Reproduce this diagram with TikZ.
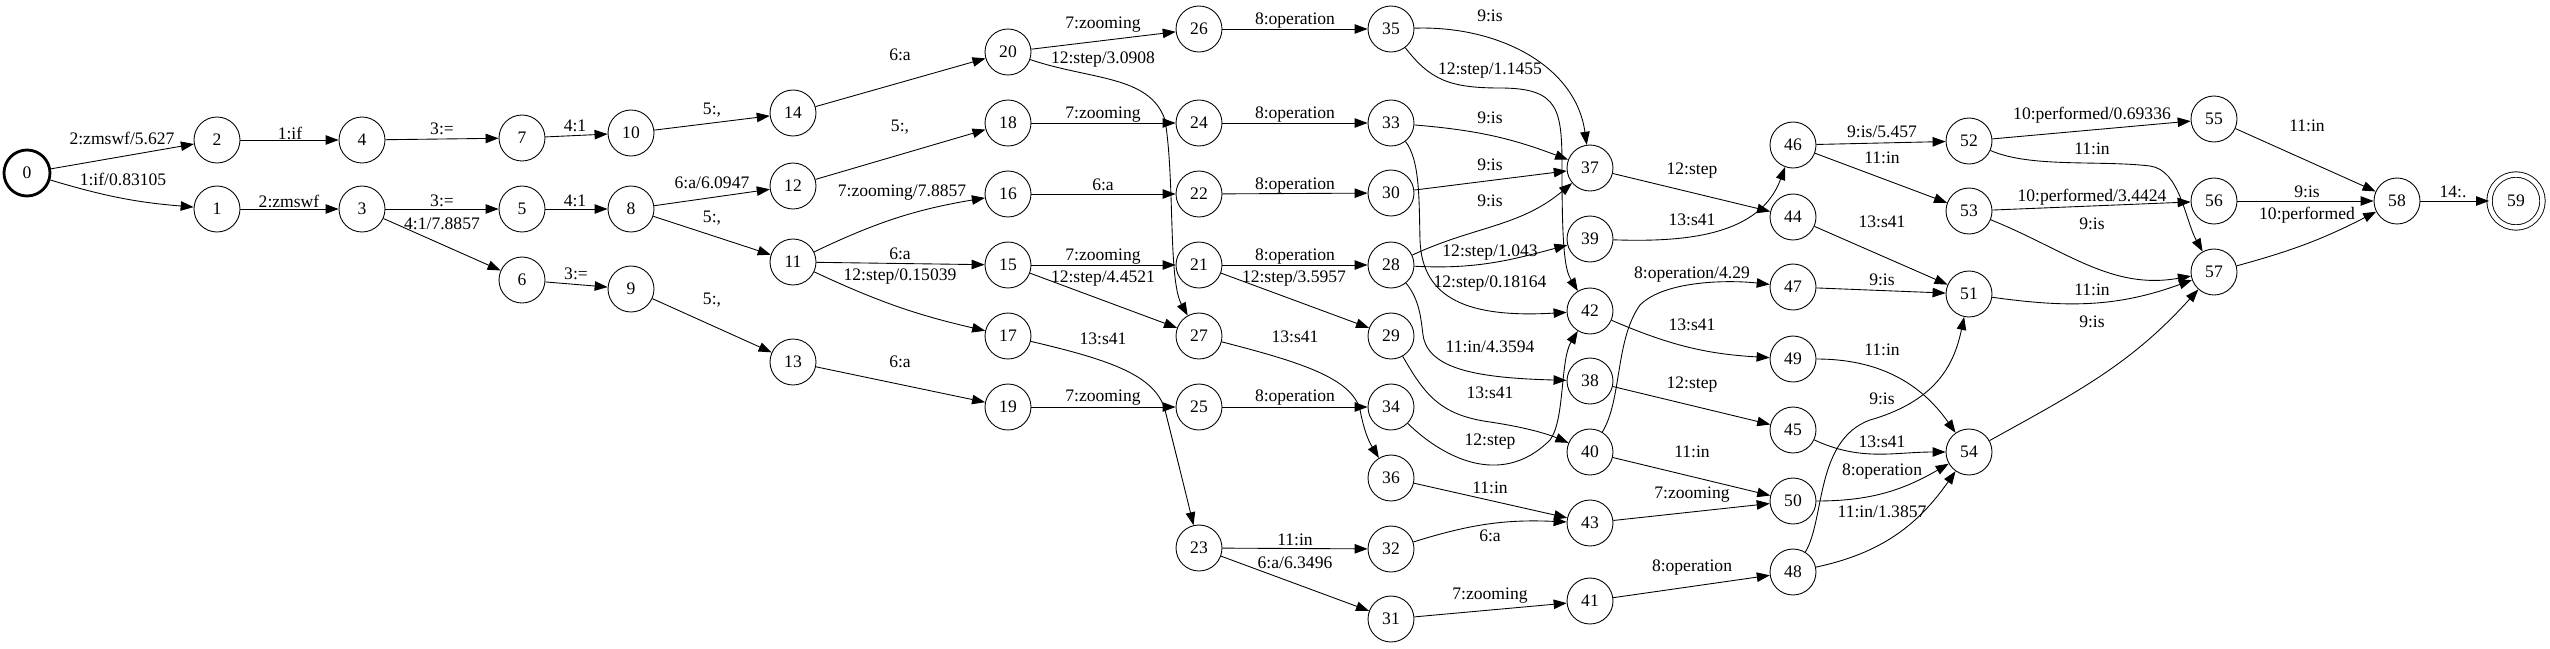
\documentclass[tikz,border=0pt]{standalone}
\usepackage{fontspec}
\setmainfont{Liberation Serif}
\usetikzlibrary{arrows.meta}

\begin{document}
\begin{tikzpicture}[x=0.02cm, y=-0.02cm, line width=0.5pt,
      >={Triangle[length=0.26cm, width=0.19cm]},
      state/.style={circle, draw, minimum size=0.92cm, inner sep=0pt},
      start/.style={state, line width=1.6pt},
      final/.style={state, minimum size=1.06cm, double, double distance=0.09cm},
      lbl/.style={inner sep=0pt}
    ]
      \useasboundingbox (0,0) rectangle (2550,649);

      % states
      \node[start] (s0) at (27,173) {0};
      \node[state] (s1) at (217,209) {1};
      \node[state] (s2) at (217,140) {2};
      \node[state] (s3) at (362,209) {3};
      \node[state] (s4) at (362,140) {4};
      \node[state] (s5) at (522,209) {5};
      \node[state] (s6) at (522,280) {6};
      \node[state] (s7) at (522,138) {7};
      \node[state] (s8) at (631,209) {8};
      \node[state] (s9) at (631,289) {9};
      \node[state] (s10) at (631,133) {10};
      \node[state] (s11) at (793,262) {11};
      \node[state] (s12) at (793,186) {12};
      \node[state] (s13) at (793,362) {13};
      \node[state] (s14) at (793,113) {14};
      \node[state] (s15) at (1008,265) {15};
      \node[state] (s16) at (1008,194) {16};
      \node[state] (s17) at (1008,336) {17};
      \node[state] (s18) at (1008,123) {18};
      \node[state] (s19) at (1008,407) {19};
      \node[state] (s20) at (1008,52) {20};
      \node[state] (s21) at (1199,265) {21};
      \node[state] (s22) at (1199,194) {22};
      \node[state] (s23) at (1199,548) {23};
      \node[state] (s24) at (1199,123) {24};
      \node[state] (s25) at (1199,407) {25};
      \node[state] (s26) at (1199,29) {26};
      \node[state] (s27) at (1199,336) {27};
      \node[state] (s28) at (1391,265) {28};
      \node[state] (s29) at (1391,336) {29};
      \node[state] (s30) at (1391,193) {30};
      \node[state] (s31) at (1391,619) {31};
      \node[state] (s32) at (1391,549) {32};
      \node[state] (s33) at (1391,123) {33};
      \node[state] (s34) at (1391,407) {34};
      \node[state] (s35) at (1391,29) {35};
      \node[state] (s36) at (1391,478) {36};
      \node[state] (s37) at (1590,168) {37};
      \node[state] (s38) at (1590,381) {38};
      \node[state] (s39) at (1590,239) {39};
      \node[state] (s40) at (1590,452) {40};
      \node[state] (s41) at (1590,601) {41};
      \node[state] (s42) at (1590,311) {42};
      \node[state] (s43) at (1590,523) {43};
      \node[state] (s44) at (1793,217) {44};
      \node[state] (s45) at (1793,430) {45};
      \node[state] (s46) at (1793,145) {46};
      \node[state] (s47) at (1793,287) {47};
      \node[state] (s48) at (1793,572) {48};
      \node[state] (s49) at (1793,359) {49};
      \node[state] (s50) at (1793,501) {50};
      \node[state] (s51) at (1969,294) {51};
      \node[state] (s52) at (1969,141) {52};
      \node[state] (s53) at (1969,211) {53};
      \node[state] (s54) at (1969,452) {54};
      \node[state] (s55) at (2214,119) {55};
      \node[state] (s56) at (2214,201) {56};
      \node[state] (s57) at (2214,272) {57};
      \node[state] (s58) at (2397,201) {58};
      \node[final] (s59) at (2516,201) {59};

      % arcs
      \draw[->] (s0) -- (s2) node[lbl] at (122,138) {2:zmswf/5.627};
      \draw[->] (s0) to[bend right=6] (s1) node[lbl] at (123,179) {1:if/0.83105};
      \draw[->] (s2) -- (s4) node[lbl] at (290,133) {1:if};
      \draw[->] (s1) -- (s3) node[lbl] at (289,201) {2:zmswf};
      \draw[->] (s4) -- (s7) node[lbl] at (442,129) {3:=};
      \draw[->] (s3) -- (s5) node[lbl] at (442,201) {3:=};
      \draw[->] (s3) -- (s6) node[lbl] at (442,224) {4:1/7.8857};
      \draw[->] (s7) -- (s10) node[lbl] at (575,126) {4:1};
      \draw[->] (s5) -- (s8) node[lbl] at (575,201) {4:1};
      \draw[->] (s6) -- (s9) node[lbl] at (576,274) {3:=};
      \draw[->] (s10) -- (s14) node[lbl] at (712,110) {5:,};
      \draw[->] (s8) -- (s12) node[lbl] at (712,183) {6:a/6.0947};
      \draw[->] (s8) -- (s11) node[lbl] at (712,218) {5:,};
      \draw[->] (s9) -- (s13) node[lbl] at (712,300) {5:,};
      \draw[->] (s14) -- (s20) node[lbl] at (900,55) {6:a};
      \draw[->] (s12) -- (s18) node[lbl] at (900,127) {5:,};
      \draw[->] (s11) to[bend left=8] (s16) node[lbl] at (902,193) {7:zooming/7.8857};
      \draw[->] (s11) -- (s15) node[lbl] at (900,254) {6:a};
      \draw[->] (s11) to[bend right=6] (s17) node[lbl] at (900,277) {12:step/0.15039};
      \draw[->] (s13) -- (s19) node[lbl] at (900,362) {6:a};
      \draw[->] (s20) -- (s26) node[lbl] at (1103,25) {7:zooming};
      \draw[->] (s20) .. controls (1090,80) and (1150,75) .. (1165,120)
                      .. controls (1175,180) and (1168,280) .. (s27) node[lbl] at (1103,60) {12:step/3.0908};
      \draw[->] (s18) -- (s24) node[lbl] at (1103,115) {7:zooming};
      \draw[->] (s16) -- (s22) node[lbl] at (1103,185) {6:a};
      \draw[->] (s15) -- (s21) node[lbl] at (1103,257) {7:zooming};
      \draw[->] (s15) -- (s27) node[lbl] at (1103,279) {12:step/4.4521};
      \draw[->] (s17) .. controls (1110,360) and (1155,375) .. (1165,410)
                      .. controls (1175,450) and (1185,490) .. (s23) node[lbl] at (1103,339) {13:s41};
      \draw[->] (s19) -- (s25) node[lbl] at (1103,398) {7:zooming};
      \draw[->] (s26) -- (s35) node[lbl] at (1295,21) {8:operation};
      \draw[->] (s24) -- (s33) node[lbl] at (1295,115) {8:operation};
      \draw[->] (s22) -- (s30) node[lbl] at (1295,186) {8:operation};
      \draw[->] (s21) -- (s28) node[lbl] at (1295,257) {8:operation};
      \draw[->] (s21) -- (s29) node[lbl] at (1294,279) {12:step/3.5957};
      \draw[->] (s27) .. controls (1300,362) and (1352,378) .. (1360,410)
                      .. controls (1364,430) and (1368,440) .. (s36) node[lbl] at (1295,337) {13:s41};
      \draw[->] (s25) -- (s34) node[lbl] at (1295,398) {8:operation};
      \draw[->] (s23) -- (s32) node[lbl] at (1295,540) {11:in};
      \draw[->] (s23) -- (s31) node[lbl] at (1295,563) {6:a/6.3496};
      \draw[->] (s35) to[out=2, in=98] (s37) node[lbl] at (1490,16) {9:is};
      \draw[->] (s35) .. controls (1430,80) and (1450,88) .. (1500,88)
                      .. controls (1560,88) and (1562,110) .. (1562,170)
                      .. controls (1562,250) and (1565,270) .. (s42) node[lbl] at (1490,71) {12:step/1.1455};
      \draw[->] (s33) to[bend left=8] (s37) node[lbl] at (1490,118) {9:is};
      \draw[->] (s30) -- (s37) node[lbl] at (1490,165) {9:is};
      \draw[->] (s28) to[out=25, in=220] (s37) node[lbl] at (1490,201) {9:is};
      \draw[->] (s28) to[out=-3, in=195] (s39) node[lbl] at (1490,253) {12:step/1.043};
      \draw[->] (s33) .. controls (1420,160) and (1419,200) .. (1420,240)
                      .. controls (1422,300) and (1470,318) .. (s42) node[lbl] at (1490,284) {12:step/0.18164};
      \draw[->] (s28) .. controls (1420,300) and (1421,320) .. (1423,335)
                      .. controls (1428,370) and (1480,378) .. (s38) node[lbl] at (1490,347) {11:in/4.3594};
      \draw[->] (s29) .. controls (1425,395) and (1440,415) .. (1490,422)
                      .. controls (1530,428) and (1550,435) .. (s40) node[lbl] at (1490,393) {13:s41};
      \draw[->] (s34) .. controls (1440,455) and (1500,490) .. (1550,440)
                      .. controls (1565,420) and (1560,360) .. (s42) node[lbl] at (1490,442) {12:step};
      \draw[->] (s36) -- (s43) node[lbl] at (1490,488) {11:in};
      \draw[->] (s32) to[bend left=10] (s43) node[lbl] at (1490,536) {6:a};
      \draw[->] (s31) -- (s41) node[lbl] at (1490,596) {7:zooming};
      \draw[->] (s37) -- (s44) node[lbl] at (1692,171) {12:step};
      \draw[->] (s39) to[out=-2, in=250] (s46) node[lbl] at (1692,220) {13:s41};
      \draw[->] (s40) .. controls (1622,400) and (1615,340) .. (1640,305)
                      .. controls (1665,280) and (1730,280) .. (s47) node[lbl] at (1692,275) {8:operation/4.29};
      \draw[->] (s42) to[bend right=10] (s49) node[lbl] at (1692,325) {13:s41};
      \draw[->] (s38) -- (s45) node[lbl] at (1692,385) {12:step};
      \draw[->] (s40) -- (s50) node[lbl] at (1692,452) {11:in};
      \draw[->] (s43) -- (s50) node[lbl] at (1692,495) {7:zooming};
      \draw[->] (s41) -- (s48) node[lbl] at (1692,568) {8:operation};
      \draw[->] (s46) -- (s52) node[lbl] at (1882,132) {9:is/5.457};
      \draw[->] (s46) -- (s53) node[lbl] at (1882,158) {11:in};
      \draw[->] (s44) -- (s51) node[lbl] at (1882,222) {13:s41};
      \draw[->] (s47) -- (s51) node[lbl] at (1882,280) {9:is};
      \draw[->] (s49) to[out=0, in=125] (s54) node[lbl] at (1882,350) {11:in};
      \draw[->] (s48) .. controls (1825,520) and (1815,440) .. (1870,420)
                      .. controls (1940,400) and (1955,360) .. (s51) node[lbl] at (1882,399) {9:is};
      \draw[->] (s45) to[out=-25, in=180] (s54) node[lbl] at (1882,442) {13:s41};
      \draw[->] (s50) to[out=0, in=210] (s54) node[lbl] at (1882,472) {8:operation};
      \draw[->] (s48) to[out=12, in=235] (s54) node[lbl] at (1882,512) {11:in/1.3857};
      \draw[->] (s52) -- (s55) node[lbl] at (2092,115) {10:performed/0.69336};
      \draw[->] (s52) .. controls (2030,168) and (2100,160) .. (2150,166)
                      .. controls (2180,170) and (2185,220) .. (s57) node[lbl] at (2092,149) {11:in};
      \draw[->] (s53) -- (s56) node[lbl] at (2092,197) {10:performed/3.4424};
      \draw[->] (s53) to[out=-22, in=190] (s57) node[lbl] at (2092,224) {9:is};
      \draw[->] (s51) to[out=-8, in=200] (s57) node[lbl] at (2092,290) {11:in};
      \draw[->] (s54) to[out=29, in=228] (s57) node[lbl] at (2092,322) {9:is};
      \draw[->] (s55) -- (s58) node[lbl] at (2307,126) {11:in};
      \draw[->] (s56) -- (s58) node[lbl] at (2307,192) {9:is};
      \draw[->] (s57) to[bend right=6] (s58) node[lbl] at (2307,215) {10:performed};
      \draw[->] (s58) -- (s59) node[lbl] at (2453,192) {14:.};
    \end{tikzpicture}
\end{document}
